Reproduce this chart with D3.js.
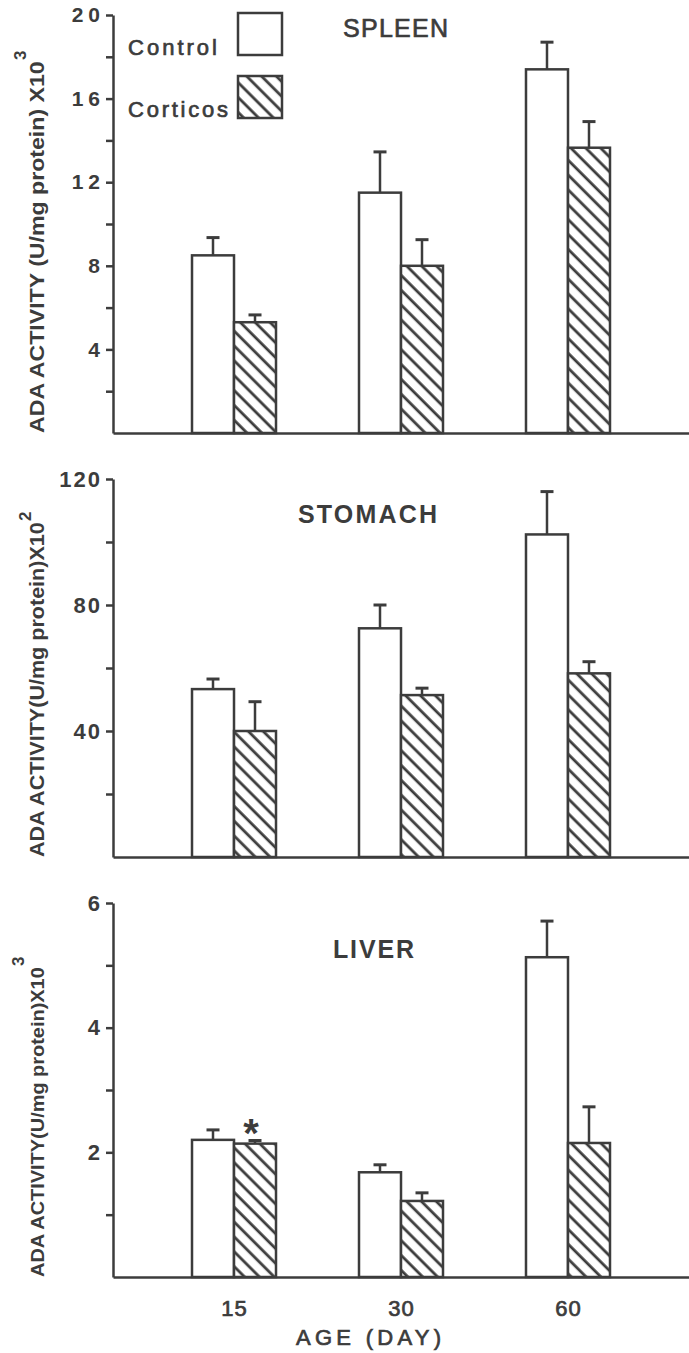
<!doctype HTML>
<html>
<head>
    <script src="https://d3js.org/d3.v7.min.js"></script>
    <style>
        body { margin: 0; background: #fff; }
        text { font-family: "Liberation Sans", Arial, sans-serif; fill: #3c3c3c; }
        .heavy { stroke: #3c3c3c; stroke-width: 0.7px; }
    </style>
</head>
<body>
<script>
    // data (mean and SE, error bars drawn upward only)
    var ages = ["15", "30", "60"];
    var groups = ["Control", "Corticos"];

    var spleenControl = [8.5, 11.5, 17.4];
    var spleenControlSE = [0.85, 1.95, 1.3];
    var spleenCorticos = [5.3, 8.0, 13.65];
    var spleenCorticosSE = [0.35, 1.25, 1.25];

    var stomachControl = [53.3, 72.6, 102.4];
    var stomachControlSE = [3.2, 7.4, 13.6];
    var stomachCorticos = [40, 51.4, 58.3];
    var stomachCorticosSE = [9.3, 2.2, 3.7];

    var liverControl = [2.2, 1.68, 5.13];
    var liverControlSE = [0.16, 0.12, 0.58];
    var liverCorticos = [2.14, 1.22, 2.15];
    var liverCorticosSE = [0.05, 0.13, 0.58];

    var spleenTicks = [4, 8, 12, 16, 20];
    var stomachTicks = [40, 80, 120];
    var liverTicks = [2, 4, 6];

    var ink = "#3c3c3c";
    var font = "'Liberation Sans', Arial, sans-serif";
    var canvasWidth = 689;
    var canvasHeight = 1353;

    var svg = d3.select("body").append("svg")
        .attr("width", canvasWidth)
        .attr("height", canvasHeight);

    // diagonal hatch for the corticos bars
    var pat = svg.append("defs").append("pattern")
        .attr("id", "hatch")
        .attr("patternUnits", "userSpaceOnUse")
        .attr("width", 10.5)
        .attr("height", 10.5)
        .attr("patternTransform", "rotate(-45)");
    pat.append("rect").attr("width", 10.5).attr("height", 10.5).attr("fill", "#fff");
    pat.append("line")
        .attr("x1", 5).attr("x2", 5).attr("y1", -1).attr("y2", 11.5)
        .attr("stroke", ink).attr("stroke-width", 2.8);

    var axisLeftX = 113;
    var xScale = d3.scalePoint()
        .domain(ages)
        .range([axisLeftX, canvasWidth])
        .padding(0.7246);
    var barW = 42;
    var subScale = d3.scaleBand().domain(groups).range([-barW, barW]);

    var panels = [
        {name: "SPLEEN", max: 20, ticks: spleenTicks, top: 15, bottom: 433,
         control: spleenControl, controlSE: spleenControlSE,
         corticos: spleenCorticos, corticosSE: spleenCorticosSE,
         titleX: 343, titleY: 37, titleLen: 105, titleWeight: "normal",
         ylab: "ADA ACTIVITY (U/mg protein) X10", sup: "3", ylabLen: 372, ylabSize: 21, supRaise: 18,
         tickFont: 21, tickSpacing: 5},
        {name: "STOMACH", max: 120, ticks: stomachTicks, top: 479, bottom: 857,
         control: stomachControl, controlSE: stomachControlSE,
         corticos: stomachCorticos, corticosSE: stomachCorticosSE,
         titleX: 298, titleY: 523, titleLen: 139, titleWeight: "bold",
         ylab: "ADA ACTIVITY(U/mg protein)X10", sup: "2", ylabLen: 335, ylabSize: 20, supRaise: 13,
         tickFont: 22, tickSpacing: 2},
        {name: "LIVER", max: 6, ticks: liverTicks, top: 903, bottom: 1277,
         control: liverControl, controlSE: liverControlSE,
         corticos: liverCorticos, corticosSE: liverCorticosSE,
         titleX: 333, titleY: 958, titleLen: 81, titleWeight: "bold",
         ylab: "ADA ACTIVITY(U/mg protein)X10", sup: "3", ylabLen: 310, ylabSize: 19, supRaise: 20,
         tickFont: 22, tickSpacing: 0}
    ];

    panels.forEach(function(p, pi) {
        var yScale = d3.scaleLinear().domain([0, p.max]).range([p.bottom, p.top]);
        var g = svg.append("g");

        // minor ticks halfway between labelled ticks
        var step = p.ticks[1] - p.ticks[0];
        var minor = p.ticks.map(function(t) { return t - step / 2; });

        var minorAxis = g.append("g")
            .attr("transform", "translate(" + axisLeftX + ",0)")
            .call(d3.axisLeft(yScale).tickValues(minor).tickSize(7).tickFormat(""));
        minorAxis.select(".domain").remove();

        var majorAxis = g.append("g")
            .attr("transform", "translate(" + axisLeftX + ",0)")
            .call(d3.axisLeft(yScale).tickValues(p.ticks).tickSize(7).tickSizeOuter(0)
                .tickPadding(6 - p.tickSpacing).tickFormat(d3.format("d")));
        majorAxis.selectAll("text")
            .attr("font-size", p.tickFont + "px")
            .attr("font-weight", "bold")
            .attr("letter-spacing", p.tickSpacing + "px")
            .attr("fill", ink)
            .style("font-family", font);

        g.selectAll(".tick line, .domain")
            .attr("stroke", ink)
            .attr("stroke-width", 2.5);

        // x baseline
        var xAxis = g.append("g")
            .attr("transform", "translate(0," + p.bottom + ")")
            .call(d3.axisBottom(xScale).tickSize(0).tickSizeOuter(0).tickPadding(23)
                .tickFormat(pi == 2 ? null : ""));
        xAxis.select(".domain").attr("stroke", ink).attr("stroke-width", 2.5);
        xAxis.selectAll("text")
            .attr("class", "heavy")
            .attr("font-size", "22px")
            .attr("letter-spacing", "1px")
            .attr("fill", ink)
            .style("font-family", font);

        // bars
        var rows = [];
        ages.forEach(function(a, i) {
            rows.push({age: a, group: "Control", v: p.control[i], se: p.controlSE[i]});
            rows.push({age: a, group: "Corticos", v: p.corticos[i], se: p.corticosSE[i]});
        });

        g.selectAll(".bar")
            .data(rows)
            .enter().append("rect")
            .attr("class", "bar")
            .attr("x", function(d) { return xScale(d.age) + subScale(d.group); })
            .attr("y", function(d) { return yScale(d.v); })
            .attr("width", subScale.bandwidth())
            .attr("height", function(d) { return p.bottom - yScale(d.v); })
            .attr("fill", function(d) { return d.group == "Control" ? "#fff" : "url(#hatch)"; })
            .attr("stroke", ink)
            .attr("stroke-width", 2.5);

        // error bars, upper half only
        var cx = function(d) { return xScale(d.age) + subScale(d.group) + subScale.bandwidth() / 2; };
        g.selectAll(".err")
            .data(rows)
            .enter().append("line")
            .attr("x1", cx).attr("x2", cx)
            .attr("y1", function(d) { return yScale(d.v); })
            .attr("y2", function(d) { return yScale(d.v + d.se); })
            .attr("stroke", ink).attr("stroke-width", 2.5);
        g.selectAll(".cap")
            .data(rows)
            .enter().append("line")
            .attr("x1", function(d) { return cx(d) - 6.5; })
            .attr("x2", function(d) { return cx(d) + 6.5; })
            .attr("y1", function(d) { return yScale(d.v + d.se); })
            .attr("y2", function(d) { return yScale(d.v + d.se); })
            .attr("stroke", ink).attr("stroke-width", 3);

        // panel title
        g.append("text")
            .attr("class", p.titleWeight == "normal" ? "heavy" : null)
            .attr("x", p.titleX)
            .attr("y", p.titleY)
            .attr("font-size", "25px")
            .attr("font-weight", p.titleWeight)
            .attr("textLength", p.titleLen)
            .attr("lengthAdjust", "spacing")
            .text(p.name);

        // rotated y label squeezed along its length, then the superscript
        var labX = 44;
        var lab = g.append("text")
            .attr("font-size", p.ylabSize + "px")
            .attr("font-weight", "bold")
            .text(p.ylab);
        var natural = lab.node().getComputedTextLength();
        lab.attr("transform", "translate(" + labX + "," + p.bottom + ") rotate(-90) scale(" + (p.ylabLen / natural) + ",1)");
        g.append("text")
            .attr("transform", "translate(" + (labX - p.supRaise) + "," + (p.bottom - p.ylabLen - 1) + ") rotate(-90)")
            .attr("font-size", "17px")
            .attr("font-weight", "bold")
            .text(p.sup);

        // significance mark on liver day 15
        if (pi == 2) {
            g.append("text")
                .attr("x", xScale("15") + subScale("Corticos") + subScale.bandwidth() / 2 - 4)
                .attr("y", yScale(p.corticos[0] + p.corticosSE[0]) + 7)
                .attr("text-anchor", "middle")
                .attr("font-size", "40px")
                .attr("font-weight", "bold")
                .text("*");
        }
    });

    // x axis title
    svg.append("text")
        .attr("class", "heavy")
        .attr("x", 296)
        .attr("y", 1345)
        .attr("font-size", "22px")
        .attr("textLength", 145)
        .attr("lengthAdjust", "spacing")
        .text("AGE (DAY)");

    // legend
    var legend = svg.append("g");
    groups.forEach(function(gname, i) {
        legend.append("rect")
            .attr("x", 238)
            .attr("y", 13 + i * 63)
            .attr("width", 44)
            .attr("height", 42)
            .attr("fill", gname == "Control" ? "#fff" : "url(#hatch)")
            .attr("stroke", ink)
            .attr("stroke-width", 2.5);
        legend.append("text")
            .attr("class", "heavy")
            .attr("x", 128)
            .attr("y", 55 + i * 62)
            .attr("font-size", "22px")
            .attr("textLength", i == 0 ? 89 : 100)
            .attr("lengthAdjust", "spacing")
            .text(gname);
    });
</script>
</body>
</html>
